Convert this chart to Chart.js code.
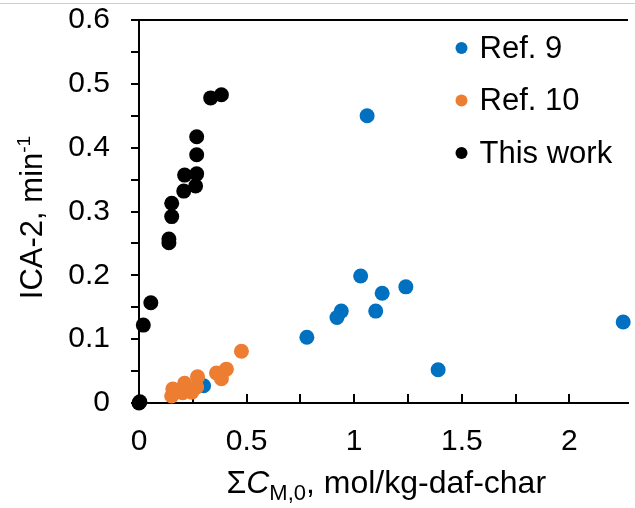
<!DOCTYPE html>
<html>
<head>
<meta charset="utf-8">
<script src="https://cdn.jsdelivr.net/npm/chart.js@4.4.1/dist/chart.umd.min.js"></script>
<style>
  html, body { margin: 0; padding: 0; background: #fff; }
  #wrap { position: relative; width: 635px; height: 508px; }
</style>
</head>
<body>
<div id="wrap"><canvas id="ica-chart"></canvas></div>
<script>
const FONT = '"Liberation Sans", Arial, sans-serif'

const seriesNames = ['Ref. 9', 'Ref. 10', 'This work']
const seriesColors = ['#0070c0', '#ed7d31', '#000000']

// x: sum of C_M,0 (mol/kg-daf-char), y: ICA-2 (1/min)
const ref9X = [1.06, 1.03, 1.13, 1.24, 0.94, 0.92, 1.10, 0.78, 1.39, 2.25, 0.30]
const ref9Y = [0.450, 0.199, 0.172, 0.182, 0.144, 0.134, 0.144, 0.103, 0.052, 0.127, 0.027]

const ref10X = [0.476, 0.406, 0.360, 0.383, 0.272, 0.212, 0.268, 0.157, 0.203, 0.152, 0.245]
const ref10Y = [0.081, 0.053, 0.047, 0.038, 0.041, 0.031, 0.025, 0.022, 0.016, 0.011, 0.017]

const thisWorkX = [0.333, 0.383, 0.268, 0.268, 0.212, 0.268, 0.263, 0.208, 0.152, 0.152, 0.139, 0.139, 0.055, 0.020, 0.000, 0.004]
const thisWorkY = [0.478, 0.483, 0.417, 0.389, 0.357, 0.359, 0.340, 0.332, 0.313, 0.292, 0.257, 0.251, 0.157, 0.122, 0.000, 0.002]

const X_MAX = 2.27
const Y_MAX = 0.6

const toPoints = (xs, ys) => xs.map((x, i) => ({ x, y: ys[i] }))
const allSeries = [toPoints(ref9X, ref9Y), toPoints(ref10X, ref10Y), toPoints(thisWorkX, thisWorkY)]

// draw order: later series sit on top
const datasets = allSeries.map((data, i) => ({
  label: seriesNames[i],
  data,
  order: allSeries.length - i,
  backgroundColor: seriesColors[i],
  borderColor: seriesColors[i],
  borderWidth: 0,
  pointRadius: 7.5,
  pointHoverRadius: 7.5,
  clip: false
}))

// write text pieces one after another, each with its own font and offset
function drawRuns(ctx, runs, cx, cy) {
  let total = 0
  runs.forEach(r => {
    ctx.font = (r.italic ? 'italic ' : '') + r.size + 'px ' + FONT
    r.w = ctx.measureText(r.text).width
    total += r.w
  })
  let x = cx - total / 2
  runs.forEach(r => {
    ctx.font = (r.italic ? 'italic ' : '') + r.size + 'px ' + FONT
    ctx.fillText(r.text, x, cy + (r.dy || 0))
    x += r.w
  })
}

// fixed box sizes, no extra room for labels hanging over the plot edges
const fixBox = (w, h) => s => {
  if (w != null) s.width = w
  if (h != null) s.height = h
  s.paddingLeft = s.paddingRight = s.paddingTop = s.paddingBottom = 0
}

const decorations = {
  id: 'decorations',
  afterDraw(chart) {
    const { ctx, chartArea: area } = chart
    ctx.save()
    ctx.fillStyle = '#cfcfcf'
    ctx.fillRect(0, 3, chart.width, 1)

    // legend, top right inside the plot
    ctx.textBaseline = 'middle'
    ctx.textAlign = 'left'
    chart.data.datasets.forEach((ds, i) => {
      const y = area.top + 28 + i * 52.5
      const x = area.right - 166
      ctx.fillStyle = ds.backgroundColor
      ctx.beginPath()
      ctx.arc(x, y, 6, 0, Math.PI * 2)
      ctx.fill()
      ctx.fillStyle = '#000'
      ctx.font = '31px ' + FONT
      ctx.fillText(ds.label, x + 18, y + 1)
    })

    // axis titles
    ctx.fillStyle = '#000'
    ctx.textBaseline = 'alphabetic'
    drawRuns(ctx, [
      { text: '\u03a3', size: 32 },
      { text: 'C', size: 32, italic: true },
      { text: 'M,0', size: 22, dy: 7 },
      { text: ', mol/kg-daf-char', size: 32 }
    ], (area.left + area.right) / 2 + 3, 493)

    ctx.translate(42, (area.top + area.bottom) / 2 + 6)
    ctx.rotate(-Math.PI / 2)
    drawRuns(ctx, [
      { text: 'ICA-2, min', size: 31 },
      { text: '-1', size: 19, dy: -12 }
    ], 0, 0)
    ctx.restore()
  }
}

const tickFont = { family: FONT, size: 30 }

new Chart(document.getElementById('ica-chart'), {
  type: 'scatter',
  data: { datasets },
  plugins: [decorations],
  options: {
    responsive: true,
    maintainAspectRatio: false,
    animation: false,
    layout: { padding: 0 },
    plugins: {
      legend: { display: false },
      tooltip: { enabled: false }
    },
    scales: {
      x: {
        type: 'linear',
        position: 'bottom',
        min: 0,
        max: X_MAX,
        afterFit: fixBox(null, 105),
        border: { color: '#000', width: 2 },
        grid: {
          drawOnChartArea: false,
          tickLength: -9,
          lineWidth: 2,
          color: c => (c.tick && c.tick.value > 2.01) ? 'rgba(0,0,0,0)' : '#000'
        },
        ticks: {
          stepSize: 0.25,
          autoSkip: false,
          maxRotation: 0,
          padding: 30,
          color: '#000',
          font: tickFont,
          callback: v => {
            const t = Math.round(v * 100)
            return (t % 50 === 0 && t <= 200) ? String(t / 100) : ''
          }
        }
      },
      xTop: {
        type: 'linear',
        position: 'top',
        min: 0,
        max: X_MAX,
        afterFit: fixBox(null, 20),
        border: { color: '#000', width: 2 },
        grid: { display: false },
        ticks: { display: false }
      },
      y: {
        min: 0,
        max: Y_MAX,
        afterFit: fixBox(139, null),
        border: { color: '#000', width: 2 },
        grid: { drawOnChartArea: false, tickLength: 8, lineWidth: 2, color: '#000' },
        ticks: {
          stepSize: 0.05,
          autoSkip: false,
          padding: 21,
          color: '#000',
          font: tickFont,
          callback: v => {
            const t = Math.round(v * 100)
            return t % 10 === 0 ? String(t / 100) : ''
          }
        }
      }
    }
  }
})
</script>
</body>
</html>
